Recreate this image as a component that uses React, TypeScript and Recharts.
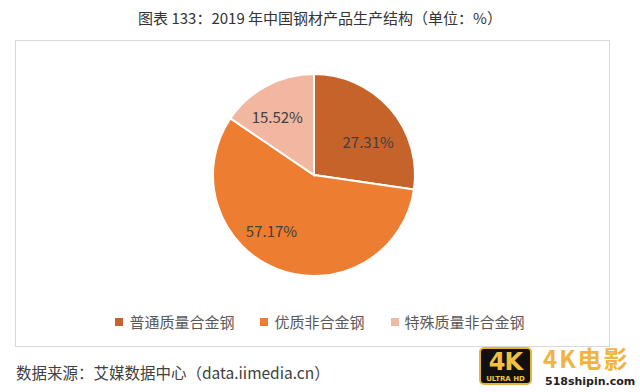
import { PieChart, Pie, Cell, Legend } from 'recharts';

const CATEGORIES = ['普通质量合金钢', '优质非合金钢', '特殊质量非合金钢'];
const SHARES = [27.31, 57.17, 15.52];
const COLORS = ['#C6632B', '#ED7D31', '#F2B7A0'];

const TITLE = '图表 133：2019 年中国钢材产品生产结构（单位：%）';
const SOURCE = '数据来源：艾媒数据中心（data.iimedia.cn）';

const FONT = '"Noto Sans CJK SC", "Noto Sans", sans-serif';

const data = CATEGORIES.map((name, i) => ({ name, value: SHARES[i] }));

// small nudges so labels land where the original (Excel best-fit) put them
const LABEL_NUDGE = [
  [3, 11],
  [-18, -8],
  [-5, 1],
];

const RADIAN = Math.PI / 180;

function renderLabel(props: any) {
  const { cx, cy, midAngle, outerRadius, index, value } = props;
  const r = outerRadius * 0.67;
  const [nx, ny] = LABEL_NUDGE[index] || [0, 0];
  const x = cx + r * Math.cos(-midAngle * RADIAN) + nx;
  const y = cy + r * Math.sin(-midAngle * RADIAN) + ny;
  return (
    <text
      x={x}
      y={y}
      fill="#404040"
      fontSize={15}
      fontFamily={FONT}
      textAnchor="middle"
      dominantBaseline="central"
    >
      {`${Number(value).toFixed(2)}%`}
    </text>
  );
}

// legend keeps the data order (Recharts would sort it otherwise)
function renderLegend() {
  return (
    <div
      style={{
        display: 'flex',
        justifyContent: 'center',
        gap: 26,
        fontFamily: FONT,
        fontSize: 15,
        color: '#595959',
      }}
    >
      {CATEGORIES.map((name, i) => (
        <div key={name} style={{ display: 'flex', alignItems: 'center' }}>
          <span
            style={{
              display: 'inline-block',
              width: 8,
              height: 8,
              background: COLORS[i],
              marginRight: 6,
            }}
          />
          <span>{name}</span>
        </div>
      ))}
    </div>
  );
}

function Watermark() {
  return (
    <div style={{ position: 'absolute', left: 479, top: 347 }}>
      <div
        style={{
          position: 'absolute',
          left: 0,
          top: 0,
          width: 53,
          height: 38,
          background: '#111',
          border: '2px solid #E8B23A',
          borderRadius: 5,
          boxSizing: 'border-box',
          textAlign: 'center',
          fontFamily: '"DejaVu Sans", sans-serif',
          color: '#F2C040',
        }}
      >
        <div style={{ fontSize: 24, fontWeight: 900, lineHeight: '26px', letterSpacing: -1 }}>4K</div>
        <div style={{ fontSize: 7, fontWeight: 700, lineHeight: '8px' }}>ULTRA HD</div>
      </div>
      <div
        style={{
          position: 'absolute',
          left: 64,
          top: -2,
          fontFamily: FONT,
          fontSize: 24,
          lineHeight: '26px',
          fontWeight: 700,
          color: '#F2B441',
          whiteSpace: 'nowrap',
          letterSpacing: 2,
        }}
      >
        4K电影
      </div>
      <div
        style={{
          position: 'absolute',
          left: 66,
          top: 28,
          fontFamily: '"DejaVu Sans", sans-serif',
          fontSize: 11,
          lineHeight: '13px',
          fontWeight: 700,
          color: '#222',
          whiteSpace: 'nowrap',
        }}
      >
        518shipin.com
      </div>
    </div>
  );
}

export default function App() {
  return (
    <div
      style={{
        position: 'absolute',
        left: 0,
        top: 0,
        width: 640,
        height: 392,
        background: '#fff',
        overflow: 'hidden',
        fontFamily: FONT,
      }}
    >
      <div
        style={{
          position: 'absolute',
          top: 7,
          left: 0,
          width: 640,
          textAlign: 'center',
          fontSize: 15,
          lineHeight: '22px',
          color: '#333',
        }}
      >
        {TITLE}
      </div>

      <div
        style={{
          position: 'absolute',
          left: 15,
          top: 40,
          width: 595,
          height: 307,
          border: '1px solid #D9D9D9',
          boxSizing: 'border-box',
        }}
      />

      <div style={{ position: 'absolute', left: 0, top: 0 }}>
        <PieChart width={640} height={392} margin={{ top: 0, right: 0, bottom: 0, left: 0 }}>
          <Pie
            data={data}
            dataKey="value"
            nameKey="name"
            cx={314}
            cy={175}
            outerRadius={101}
            startAngle={90}
            endAngle={-270}
            stroke="#fff"
            strokeWidth={2}
            label={renderLabel}
            labelLine={false}
            isAnimationActive={false}
          >
            {data.map((d, i) => (
              <Cell key={d.name} fill={COLORS[i]} />
            ))}
          </Pie>
          <Legend
            content={renderLegend}
            wrapperStyle={{ position: 'absolute', left: 0, top: 311, width: 640 }}
          />
        </PieChart>
      </div>

      <div
        style={{
          position: 'absolute',
          left: 16,
          top: 361,
          fontSize: 15.5,
          lineHeight: '22px',
          color: '#404040',
          whiteSpace: 'nowrap',
        }}
      >
        {SOURCE}
      </div>

      <Watermark />
    </div>
  );
}
